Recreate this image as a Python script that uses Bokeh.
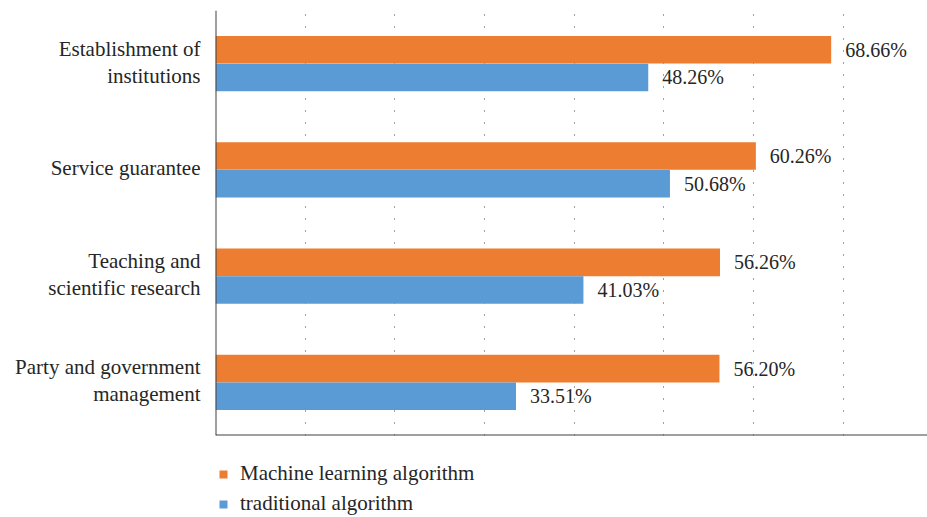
from bokeh.plotting import figure
from bokeh.models import (ColumnDataSource, FactorRange, Legend, LegendItem, Span,
                          Grid, FixedTicker)
from bokeh.layouts import column, row
from bokeh.transform import dodge
from bokeh.embed import file_html
from bokeh.resources import INLINE
from bokeh.core.properties import value

categories = ["Party and government management", "Teaching and scientific research",
              "Service guarantee", "Establishment of institutions"]
tick_lines = [["Party and government", "management"], ["Teaching and", "scientific research"],
              ["Service guarantee"], ["Establishment of", "institutions"]]
machine_learning = [56.20, 56.26, 60.26, 68.66]
traditional = [33.51, 41.03, 50.68, 48.26]
series_names = ["Machine learning algorithm", "traditional algorithm"]
grid_ticks = [10, 20, 30, 40, 50, 60, 70]

ORANGE = "#ED7D31"
BLUE = "#5B9BD5"
FONT = "Liberation Serif"
TXT = "#262626"
AXIS = "#404040"


def strip(fig):
    fig.outline_line_color = None
    for g in fig.grid:
        g.visible = False


src = ColumnDataSource(dict(
    cat=categories,
    ml=machine_learning,
    tr=traditional,
    ml_lab=["%.2f%%" % v for v in machine_learning],
    tr_lab=["%.2f%%" % v for v in traditional],
))

# category label lines
lc, lt, lo = [], [], []
for c, lines in zip(categories, tick_lines):
    n = len(lines)
    for i, t in enumerate(lines):
        lc.append(c)
        lt.append(t)
        lo.append(-13.5 * (n - 1) + 27 * i - 1.5)
lab_src = ColumnDataSource(dict(cat=lc, text=lt, off=lo, x=[1] * len(lc)))

yr = FactorRange(*categories, range_padding=0)

# left panel with the category labels
left = figure(width=215, height=437, y_range=yr, x_range=(0, 1),
              output_backend="svg", toolbar_location=None,
              x_axis_location=None, y_axis_location=None,
              min_border_left=0, min_border_top=10, min_border_bottom=2, min_border_right=0)
strip(left)
left.text(x="x", y="cat", text="text", y_offset="off", x_offset=-15, source=lab_src,
          text_align="right", text_baseline="middle",
          text_font=value(FONT), text_font_size="21px", text_color=TXT)

# main chart
p = figure(width=712, height=437, y_range=yr, x_range=(0, 79.4),
           output_backend="svg", toolbar_location=None,
           x_axis_location=None, y_axis_location=None,
           min_border_left=0, min_border_top=10, min_border_bottom=2, min_border_right=0)
strip(p)

p.add_layout(Grid(dimension=0, ticker=FixedTicker(ticks=grid_ticks),
                  grid_line_color="#444444", grid_line_dash="1 11", grid_line_width=1))

r1 = p.hbar(y=dodge("cat", 0.13, range=p.y_range), right="ml", height=0.26, left=0,
            source=src, fill_color=ORANGE, line_color=None)
r2 = p.hbar(y=dodge("cat", -0.13, range=p.y_range), right="tr", height=0.26, left=0,
            source=src, fill_color=BLUE, line_color=None)

for off, xcol, lab in [(0.13, "ml", "ml_lab"), (-0.13, "tr", "tr_lab")]:
    p.text(x=xcol, y=dodge("cat", off, range=p.y_range), text=lab, source=src,
           x_offset=14, text_align="left", text_baseline="middle",
           text_font=value(FONT), text_font_size="20px", text_color=TXT)

p.add_layout(Span(location=0, dimension="height", line_color=AXIS, line_width=2))
p.add_layout(Span(location=0, dimension="width", line_color=AXIS, line_width=2))

# legend panel below the chart
leg = figure(width=927, height=80, x_range=(-2, -1), y_range=FactorRange(*categories),
             output_backend="svg", toolbar_location=None,
             x_axis_location=None, y_axis_location=None,
             min_border_left=218, min_border_top=24, min_border_bottom=0, min_border_right=0)
strip(leg)
g1 = leg.hbar(y="cat", right="ml", left=0, height=0.26, source=src,
              fill_color=ORANGE, line_color=None)
g2 = leg.hbar(y="cat", right="tr", left=0, height=0.26, source=src,
              fill_color=BLUE, line_color=None)

legend = Legend(items=[LegendItem(label=series_names[0], renderers=[g1]),
                       LegendItem(label=series_names[1], renderers=[g2])],
                location="top_left", orientation="vertical")
legend.label_text_font = FONT
legend.label_text_font_size = "21px"
legend.label_text_color = TXT
legend.glyph_width = 10
legend.glyph_height = 10
legend.label_standoff = 12
legend.spacing = 5
legend.padding = 0
legend.margin = 0
legend.border_line_color = None
legend.background_fill_alpha = 0
leg.add_layout(legend)

layout = column(row(left, p, spacing=0), leg, spacing=0)
open("out.html", "w").write(file_html(layout, INLINE))
